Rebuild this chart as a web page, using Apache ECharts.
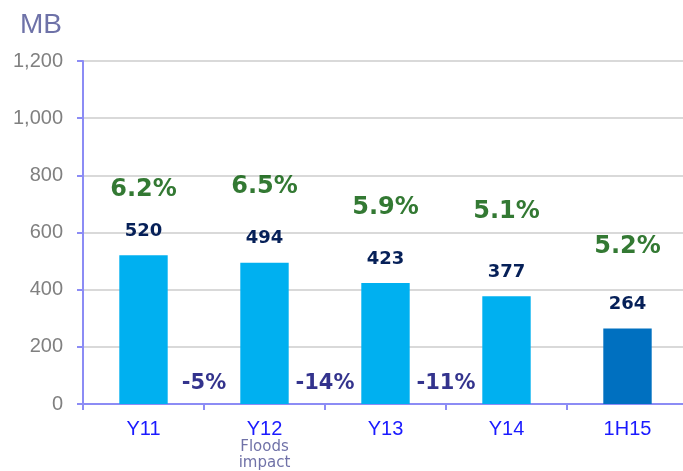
<!DOCTYPE html>
<html><head><meta charset="utf-8">
<script src="https://cdn.jsdelivr.net/npm/echarts@6/dist/echarts.min.js"></script>
<style>html,body{margin:0;padding:0;background:#fff}#c{width:683px;height:471px}</style>
</head><body><div id="c"></div>
<script>
var categories = ['Y11', 'Y12', 'Y13', 'Y14', '1H15'];
var values = [520, 494, 423, 377, 264];
var growthLabels = ['6.2%', '6.5%', '5.9%', '5.1%', '5.2%'];
var growthLabelY = [750, 760, 686, 672, 549];
var changeLabels = ['-5%', '-14%', '-11%'];
var changeX = [1, 2, 3];
var changeY = [73, 73, 73];
var yTicks = { min: 0, max: 1200, interval: 200 };

var barColors = ['#00B0F0', '#00B0F0', '#00B0F0', '#00B0F0', '#0070C0'];

var chart = echarts.init(document.getElementById('c'));
chart.setOption({
  animation: false,
  title: { text: 'MB', left: 15, top: 6, textStyle: { fontFamily: 'Liberation Sans', fontSize: 28, fontWeight: 'normal', color: '#6E72A8' } },
  grid: { left: 83, top: 61, bottom: 67, width: 605, containLabel: false, outerBoundsMode: 'none' },
  xAxis: [{
    type: 'category', data: categories,
    axisLine: { lineStyle: { color: '#8C8CF5', width: 2 } },
    axisTick: { show: true, length: 6, lineStyle: { color: '#8C8CF5', width: 2 } },
    axisLabel: {
      margin: 15, fontFamily: 'Liberation Sans', fontSize: 20, color: '#1A1AFF',
      formatter: function (v) { return v === 'Y12' ? v + '\n{f|Floods}\n{f|impact}' : v; },
      rich: { f: { fontFamily: 'DejaVu Sans', fontSize: 15, color: '#7072A8', lineHeight: 16, padding: [1, 0, 0, 0] } }
    }
  }, {
    type: 'value', min: 0, max: 5, show: false
  }],
  yAxis: {
    type: 'value', min: yTicks.min, max: yTicks.max, interval: yTicks.interval,
    axisLine: { show: true, lineStyle: { color: '#8C8CF5', width: 2 } },
    axisTick: { show: true, length: 6, lineStyle: { color: '#8C8CF5', width: 2 } },
    axisLabel: { margin: 20, fontFamily: 'Liberation Sans', fontSize: 20, color: '#808080',
      formatter: function (v) { return v.toLocaleString('en-US'); } },
    splitLine: { lineStyle: { color: '#D9D9D9', width: 2 } }
  },
  series: [{
    type: 'bar', data: values.map(function (v, i) { return { value: v, itemStyle: { color: barColors[i] } }; }),
    barWidth: '40%',
    label: { show: true, position: 'top', distance: 15, fontFamily: 'DejaVu Sans', fontWeight: 'bold', fontSize: 18, color: '#062058' }
  }, {
    type: 'scatter', xAxisIndex: 0, symbolSize: 0, data: growthLabelY,
    label: { show: true, position: 'inside', fontFamily: 'DejaVu Sans', fontWeight: 'bold', fontSize: 24, color: '#005800',
      formatter: function (p) { return growthLabels[p.dataIndex]; } }
  }, {
    type: 'scatter', xAxisIndex: 1, symbolSize: 0,
    data: changeX.map(function (x, i) { return [x, changeY[i]]; }),
    label: { show: true, position: 'inside', fontFamily: 'DejaVu Sans', fontWeight: 'bold', fontSize: 21, color: '#000070',
      formatter: function (p) { return changeLabels[p.dataIndex]; } }
  }]
});
</script></body></html>
